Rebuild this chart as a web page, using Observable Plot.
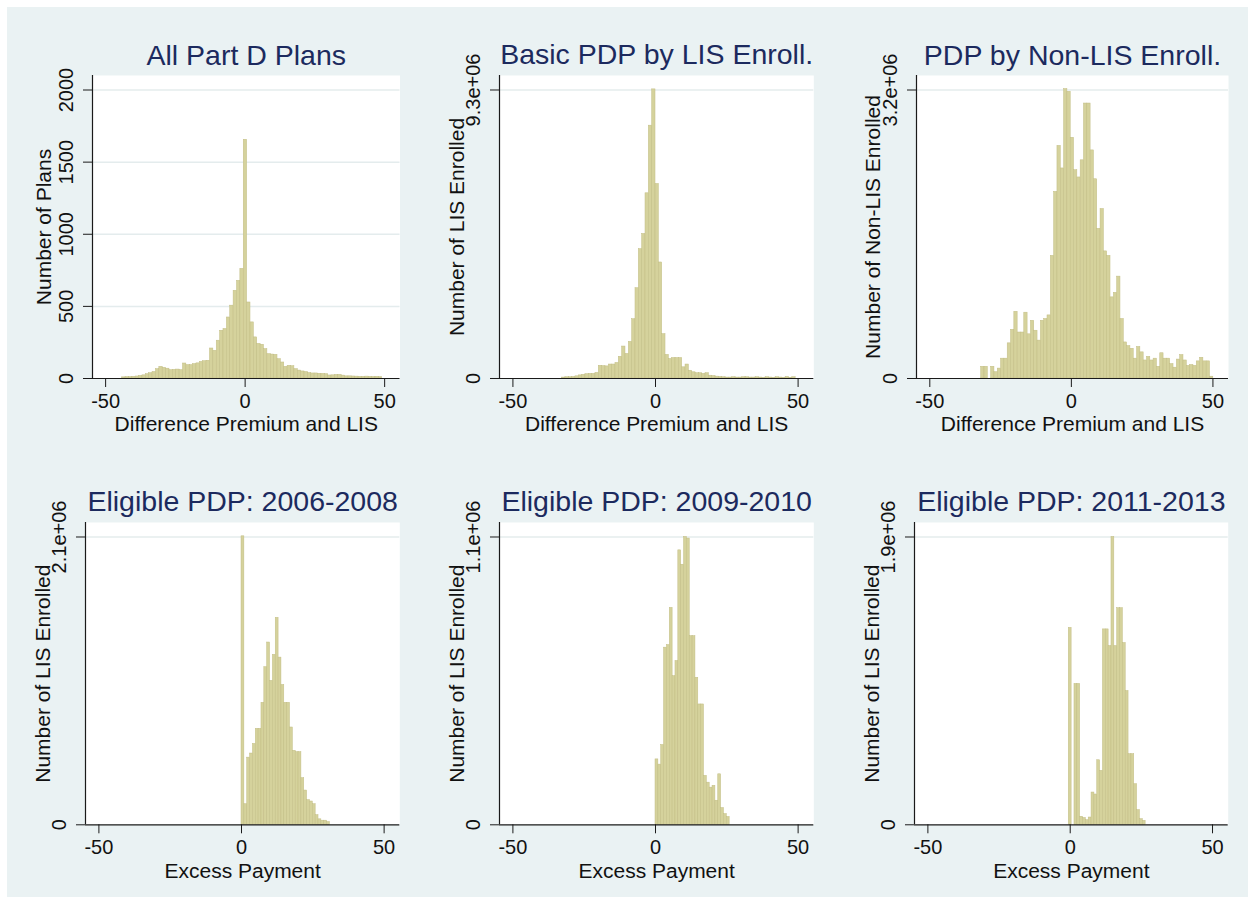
<!DOCTYPE html>
<html>
<head>
<meta charset="utf-8">
<script src="https://cdn.jsdelivr.net/npm/d3@7"></script>
<script src="https://cdn.jsdelivr.net/npm/@observablehq/plot@0.6"></script>
<style>
  body { margin: 0; background: #ffffff; width: 1255px; height: 904px; overflow: hidden; }
  #bg { position: absolute; left: 7px; top: 7px; width: 1241px; height: 890px; background: #eaf2f3; }
</style>
</head>
<body>
<div id="bg"></div>
<div id="root"></div>
<script>
// ---------------- DATA ----------------
const titles = ["All Part D Plans", "Basic PDP by LIS Enroll.", "PDP by Non-LIS Enroll.",
                "Eligible PDP: 2006-2008", "Eligible PDP: 2009-2010", "Eligible PDP: 2011-2013"];
const xLabels = ["Difference Premium and LIS", "Difference Premium and LIS", "Difference Premium and LIS",
                 "Excess Payment", "Excess Payment", "Excess Payment"];
const yLabels = ["Number of Plans", "Number of LIS Enrolled", "Number of Non-LIS Enrolled",
                 "Number of LIS Enrolled", "Number of LIS Enrolled", "Number of LIS Enrolled"];
const xTicks = [-50, 0, 50];

// histogram bins: first bin lower edge and bin width per panel
const binStarts = [-44.06, -32.76, -31.86, 0, 0, -0.5];
const binWidths = [1.21, 1.17, 1.1714, 1, 1, 1];

// panel 1: number of plans
const countsAllPlans = [8,10,10,12,14,18,22,30,37,45,65,81,74,68,58,60,62,58,104,93,
  93,100,105,115,120,123,208,192,262,331,343,423,505,608,677,760,1655,527,389,285,
  240,234,204,169,166,164,134,111,81,88,85,65,55,49,45,38,35,35,33,32,
  30,21,22,25,25,20,15,15,14,13,12,12,13,12,11,12,10];
// panels 2-6: enrollment, in millions
const lisEnrolledBasic = [0.03,0.04,0.04,0.05,0.07,0.10,0.12,0.14,0.15,0.15,0.18,
  0.41,0.40,0.39,0.45,0.45,0.50,0.70,1.03,0.79,1.18,1.91,2.91,4.17,4.66,5.97,8.15,9.32,
  6.27,3.74,1.43,0.76,0.63,0.66,0.66,0.66,0.36,0.45,0.25,0.20,0.17,0.17,0.15,0.17,0.09,0.08,0.06,0.05,0.04,
  0.03,0.03,0.04,0.03,0.03,0.04,0.04,0.03,0.03,0.04,0.03,0.02,0.04,0.03,0.02,0.04,0.03,0.02,0.05,0.02,0.04];
const nonLisEnrolled = [0.13,0.13,0,0.13,0.07,0.11,0.22,0.22,0.39,0.54,0.74,0.51,0.51,0.73,0.49,0.64,0.53,0.42,0.64,0.66,0.70,1.36,
  2.07,2.58,2.33,3.21,3.18,2.67,2.31,2.23,2.42,3.05,3.05,2.53,2.21,1.66,1.88,1.41,1.36,0.90,0.95,1.13,0.66,
  0.40,0.36,0.33,0.22,0.35,0.29,0.20,0.24,0.20,0.22,0.13,0.28,0.22,0.22,0.16,0.12,0.21,0.26,0.20,0.14,0.15,0.14,0.19,0.23,0.19,0.19,0.02];
const lis2006_2008 = [2.105,0.15,0.49,0.52,0.59,0.70,0.70,0.89,1.15,1.33,1.05,1.24,1.51,1.22,1.02,0.89,0.89,0.71,0.54,0.53,
  0.53,0.34,0.25,0.18,0.17,0.15,0.07,0.04,0.03,0.03,0.02];
const lis2009_2010 = [0.25,0.23,0.305,0.677,0.687,0.829,0.568,0.626,1.049,0.994,1.10,1.094,0.721,0.721,0.562,0.46,0.46,
  0.187,0.161,0.142,0.149,0.092,0.193,0.064,0.041,0.03];
const lis2011_2013 = [1.30,0,0.93,0.93,0.053,0.045,0.03,0.048,0.213,0.20,0.426,0.356,1.29,1.29,1.18,1.90,1.18,1.43,1.43,
  1.20,0.883,0.466,0.466,0.268,0.097,0.037,0.026];
const seriesList = [countsAllPlans, lisEnrolledBasic, nonLisEnrolled, lis2006_2008, lis2009_2010, lis2011_2013];

// y ticks (values in the series' units) and their labels
const yTickValues = [[0,500,1000,1500,2000], [0,9.3], [0,3.2], [0,2.1], [0,1.1], [0,1.9]];
const yTickLabels = [["0","500","1000","1500","2000"], ["0","9.3e+06"], ["0","3.2e+06"],
                     ["0","2.1e+06"], ["0","1.1e+06"], ["0","1.9e+06"]];

// ---------------- LAYOUT / STYLE ----------------
const frames = [
  {left: 92,    top: 75,    w: 307.5, h: 303,   yTitleDx: -48.5},
  {left: 499,   top: 75,    w: 314.3, h: 303,   yTitleDx: -42},
  {left: 915.7, top: 75,    w: 312,   h: 303,   yTitleDx: -43},
  {left: 85,    top: 521.7, w: 314.3, h: 302.3, yTitleDx: -42.5},
  {left: 499,   top: 521.7, w: 314.3, h: 302.3, yTitleDx: -42},
  {left: 914,   top: 521.7, w: 313.7, h: 302.3, yTitleDx: -42}
];
const xDomain = [-54.7, 55.5];
const topGap = 14.5;
const M = {left: 80, right: 25, top: 50, bottom: 70};
const font = "'Liberation Sans', Arial, Helvetica, sans-serif";
const barFill = "#d5d29c";
const barStroke = "#c2bd84";
const gridColor = "#e4eced";
const axisColor = "#1a1a1a";
const titleColor = "#1c2a5e";

const root = document.getElementById("root");

seriesList.forEach((vals, p) => {
  const f = frames[p];
  const ticks = yTickValues[p];
  const tickMax = ticks[ticks.length - 1];
  const yTop = tickMax * f.h / (f.h - topGap);
  const bins = vals.map((v, i) => ({
    x1: binStarts[p] + i * binWidths[p],
    x2: binStarts[p] + (i + 1) * binWidths[p],
    v
  })).filter(d => d.v > 0);
  const grid = ticks.filter(t => t > 0);

  const svg = Plot.plot({
    width: f.w + M.left + M.right,
    height: f.h + M.top + M.bottom,
    marginLeft: M.left, marginRight: M.right, marginTop: M.top, marginBottom: M.bottom,
    x: {domain: xDomain, axis: null},
    y: {domain: [0, yTop], axis: null},
    style: {fontFamily: font, color: "#111", background: "transparent", overflow: "visible"},
    marks: [
      Plot.frame({fill: "white", stroke: "none"}),
      Plot.ruleY(grid, {stroke: gridColor, strokeWidth: 1.5}),
      Plot.rectY(bins, {x1: "x1", x2: "x2", y: "v", fill: barFill, stroke: barStroke, strokeWidth: 0.5}),
      Plot.ruleX([xDomain[0]], {stroke: axisColor, strokeWidth: 1.2}),
      Plot.ruleY([0], {stroke: axisColor, strokeWidth: 1.2}),
      Plot.axisY({ticks: ticks, tickSize: 9, tickFormat: () => "", label: null, stroke: axisColor}),
      Plot.axisX({ticks: xTicks, tickSize: 9, tickPadding: 6, fontSize: 20, tickFormat: d => String(d), label: null, stroke: axisColor}),
      Plot.text(ticks, {y: d => d, text: (d, i) => yTickLabels[p][i], frameAnchor: "left", textAnchor: "middle", dx: -26, rotate: -90, fontSize: 20, fill: "#111"}),
      Plot.text([yLabels[p]], {text: d => d, frameAnchor: "left", textAnchor: "middle", dx: f.yTitleDx, rotate: -90, fontSize: 21, fill: "#111"}),
      Plot.text([xLabels[p]], {text: d => d, frameAnchor: "bottom", lineAnchor: "top", dy: 38, fontSize: 21, fill: "#111"}),
      Plot.text([titles[p]], {text: d => d, frameAnchor: "top", lineAnchor: "bottom", dy: -11, fontSize: 28.5, fill: titleColor})
    ]
  });
  svg.style.position = "absolute";
  svg.style.left = (f.left - M.left) + "px";
  svg.style.top = (f.top - M.top) + "px";
  root.appendChild(svg);
});
</script>
</body>
</html>
